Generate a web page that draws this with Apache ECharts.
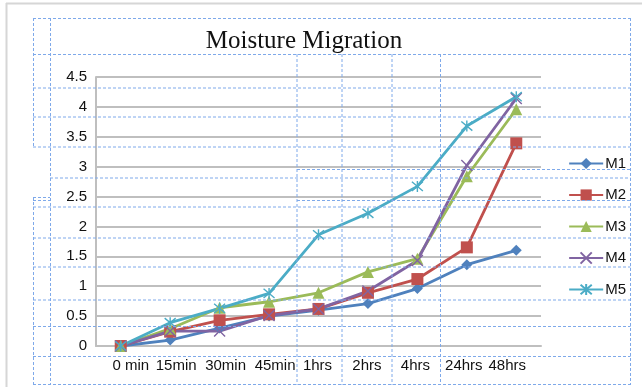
<!DOCTYPE html>
<html>
<head>
<meta charset="utf-8">
<script src="https://cdn.jsdelivr.net/npm/echarts@6/dist/echarts.min.js"></script>
<style>
  html, body { margin: 0; padding: 0; background: #ffffff; }
  #chart { width: 642px; height: 387px; }
</style>
</head>
<body>
<div id="chart"></div>
<script>
// Time points of the moisture readings
const categories = ['0 min', '15min', '30min', '45min', '1hrs', '2hrs', '4hrs', '24hrs', '48hrs'];

// Moisture values per mix
const M1 = [0, 0.10, 0.30, 0.50, 0.60, 0.71, 0.96, 1.36, 1.60];
const M2 = [0, 0.24, 0.43, 0.53, 0.62, 0.89, 1.12, 1.65, 3.39];
const M3 = [0, 0.29, 0.64, 0.74, 0.89, 1.24, 1.46, 2.84, 3.96];
const M4 = [0, 0.25, 0.25, 0.51, 0.62, 0.92, 1.43, 3.02, 4.14];
const M5 = [0, 0.39, 0.63, 0.88, 1.86, 2.22, 2.67, 3.68, 4.17];

const seriesNames = ['M1', 'M2', 'M3', 'M4', 'M5'];
const seriesData = [M1, M2, M3, M4, M5];

// Office-style palette and markers
const colors = ['#4f81bd', '#c0504d', '#9bbb59', '#8064a2', '#4bacc6'];
const symbols = [
  'diamond',
  'rect',
  'triangle',
  'path://M0,0L10,10M10,0L0,10',
  'path://M0,0L10,10M10,0L0,10M5,-1L5,11'
];
const symbolSizes = [11, 12, 12, 11, 11];

// Horizontal nudge (px) of each category label, the labels sit slightly off-centre
const labelShift = [10, 6, 6, 6, -1, -1, -2, -3, -9];

const axisFont = 'Liberation Sans';
const labelStyle = { fontFamily: axisFont, fontSize: 15, color: '#111111' };

const richLabels = {};
labelShift.forEach((dx, i) => {
  richLabels['c' + i] = Object.assign({}, labelStyle, {
    padding: dx >= 0 ? [0, 0, 0, 2 * dx] : [0, -2 * dx, 0, 0]
  });
});

const chart = echarts.init(document.getElementById('chart'), null, { renderer: 'canvas' });

const series = seriesNames.map((name, i) => ({
  name: name,
  type: 'line',
  data: seriesData[i],
  symbol: symbols[i],
  symbolSize: symbolSizes[i],
  showAllSymbol: true,
  lineStyle: { color: colors[i], width: 2.8 },
  itemStyle: {
    color: colors[i],
    borderColor: colors[i],
    borderWidth: i >= 3 ? 1.4 : 0
  },
  emphasis: { disabled: true },
  animation: false
}));

// Dashed layout guides drawn over the chart
const guide = { stroke: '#7ea9ea', lineWidth: 1, lineDash: [3, 2] };
function hLine(y, x1, x2) {
  return { type: 'line', z: 100, silent: true, shape: { x1: x1, y1: y, x2: x2, y2: y }, style: guide };
}
function vLine(x, y1, y2) {
  return { type: 'line', z: 100, silent: true, shape: { x1: x, y1: y1, x2: x, y2: y2 }, style: guide };
}
const frame = { stroke: '#d6d6d6', lineWidth: 2 };

const graphics = [
  { type: 'line', z: 99, silent: true, shape: { x1: 6, y1: 3.5, x2: 642, y2: 3.5 }, style: frame },
  { type: 'line', z: 99, silent: true, shape: { x1: 6.5, y1: 3, x2: 6.5, y2: 387 }, style: frame },
  // outer box
  hLine(18.5, 33, 630.5), hLine(384.5, 33, 630.5),
  vLine(630.5, 18, 385),
  vLine(33.5, 18, 147), vLine(33.5, 197, 385),
  vLine(50.5, 18, 385),
  // inner columns
  vLine(297, 54, 385), vLine(342, 54, 385), vLine(392, 54, 385), vLine(440.5, 54, 385),
  // rows
  hLine(54.5, 33, 630.5), hLine(88, 33, 630.5), hLine(117, 33, 630.5), hLine(147, 33, 630.5),
  hLine(169.5, 297, 630.5), hLine(178, 50, 630.5),
  hLine(197.5, 33, 50), hLine(200.5, 33, 50), hLine(200.5, 297, 630.5),
  hLine(207, 33, 630.5),
  hLine(238, 33, 630.5), hLine(267, 33, 630.5), hLine(300, 33, 630.5),
  hLine(326.5, 33, 630.5), hLine(356.5, 33, 630.5)
];

chart.setOption({
  backgroundColor: '#ffffff',
  animation: false,
  title: {
    text: 'Moisture Migration',
    left: 299,
    top: 24,
    textAlign: 'center',
    textStyle: {
      fontFamily: 'Liberation Serif',
      fontSize: 25,
      fontWeight: 'normal',
      color: '#111111'
    }
  },
  grid: { left: 96, right: 101, top: 77, bottom: 41, containLabel: false },
  legend: {
    orient: 'vertical',
    right: 11,
    top: 151,
    itemWidth: 34,
    itemHeight: 14,
    itemGap: 16.5,
    textStyle: { fontFamily: axisFont, fontSize: 15, color: '#111111', padding: [0, 0, 0, -3] },
    data: seriesNames
  },
  xAxis: {
    type: 'category',
    data: categories,
    boundaryGap: true,
    axisLine: { show: true, lineStyle: { color: '#bfbfbf', width: 2 } },
    axisTick: { show: false },
    axisLabel: Object.assign({
      interval: 0,
      margin: 12,
      formatter: (value, index) => '{c' + index + '|' + value + '}',
      rich: richLabels
    }, labelStyle),
    splitLine: { show: false }
  },
  yAxis: {
    type: 'value',
    min: 0,
    max: 4.5,
    interval: 0.5,
    axisLine: { show: true, lineStyle: { color: '#bfbfbf', width: 2 } },
    axisTick: { show: false },
    axisLabel: Object.assign({ margin: 9 }, labelStyle),
    splitLine: { show: true, lineStyle: { color: '#bfbfbf', width: 2 } }
  },
  series: series,
  graphic: graphics
});
</script>
</body>
</html>
